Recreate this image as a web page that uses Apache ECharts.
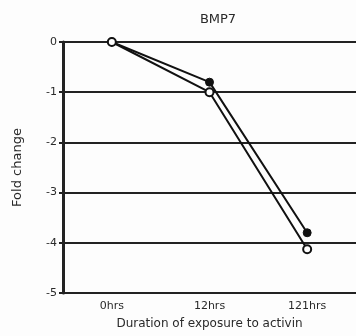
<!DOCTYPE html>
<html><head><meta charset="utf-8">
<script src="https://cdn.jsdelivr.net/npm/echarts@6/dist/echarts.min.js"></script>
<style>html,body{margin:0;padding:0;background:#fff}#c{width:356px;height:336px}</style>
</head><body><div id="c"></div>
<script>
const categories = ['0hrs', '12hrs', '121hrs'];
const filledSeries = [0, -0.8, -3.8];
const openSeries = [0, -1.0, -4.13];
const yTicks = [0, -1, -2, -3, -4, -5];

const font = 'DejaVu Sans';
const chart = echarts.init(document.getElementById('c'), null, {renderer: 'canvas'});
chart.setOption({
  backgroundColor: '#fdfdfd',
  animation: false,
  title: {text: 'BMP7', left: 213, top: 8, textAlign: 'center',
    textStyle: {fontFamily: font, fontSize: 13, fontWeight: 'normal', color: '#2a2a2a'}},
  grid: {left: 63, right: -4, top: 42, bottom: 43},
  xAxis: {
    type: 'category', data: categories, boundaryGap: true,
    name: 'Duration of exposure to activin', nameLocation: 'middle', nameGap: 25,
    nameTextStyle: {fontFamily: font, fontSize: 12, color: '#2a2a2a'},
    axisLine: {show: false}, axisTick: {show: false},
    axisLabel: {fontFamily: font, fontSize: 11, color: '#2a2a2a', margin: 8}
  },
  yAxis: {
    type: 'value', min: -5, max: 0, interval: 1,
    name: 'Fold change', nameLocation: 'middle', nameGap: 39,
    nameTextStyle: {fontFamily: font, fontSize: 13, color: '#2a2a2a'},
    axisLine: {show: true, onZero: false, lineStyle: {color: '#222', width: 3}},
    axisTick: {show: true, length: 4, lineStyle: {color: '#222', width: 2}},
    axisLabel: {fontFamily: font, fontSize: 11, color: '#2a2a2a', margin: 6},
    splitLine: {show: true, lineStyle: {color: '#222', width: 2}}
  },
  series: [
    {type: 'line', data: filledSeries, symbol: 'circle', symbolSize: 8,
      lineStyle: {color: '#111', width: 2}, itemStyle: {color: '#111', borderColor: '#111'}, z: 2},
    {type: 'line', data: openSeries, symbol: 'circle', symbolSize: 8,
      lineStyle: {color: '#111', width: 2}, itemStyle: {color: '#fff', borderColor: '#111', borderWidth: 2}, z: 3}
  ]
});
</script></body></html>
